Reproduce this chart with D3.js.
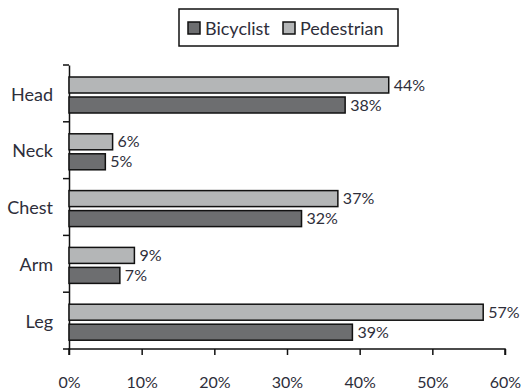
<!DOCTYPE html>
<html>
<head>
<meta charset="utf-8">
<script src="https://cdn.jsdelivr.net/npm/d3@7"></script>
<style>
    body { margin: 0; background: #fff; }
    text { font-family: Lato, "Open Sans", sans-serif; fill: #2e2e3a; }
</style>
</head>
<body>
<svg id="chart" width="525" height="392"></svg>
<script>
const categories = ['Head', 'Neck', 'Chest', 'Arm', 'Leg'];
const seriesNames = ['Pedestrian', 'Bicyclist'];
const pedestrian = [44, 6, 37, 9, 57];
const bicyclist = [38, 5, 32, 7, 39];
const xTicks = [0, 10, 20, 30, 40, 50, 60];

const COLORS = {Bicyclist: '#6d6e70', Pedestrian: '#b4b6b7'};

const MARGIN = {top: 65, right: 20, bottom: 43, left: 69};
const WIDTH = 525, HEIGHT = 392;

const svg = d3.select('#chart');

const xScale = d3.scaleLinear()
    .domain([0, 60])
    .range([MARGIN.left, 505]);

const yScale = d3.scaleBand()
    .domain(categories)
    .range([MARGIN.top, HEIGHT - MARGIN.bottom]);

const subScale = d3.scaleBand()
    .domain(seriesNames)
    .range([12, 48])
    .paddingInner(0.2);

const rows = categories.map((c, i) => ({
    category: c,
    values: [
        {series: 'Pedestrian', value: pedestrian[i]},
        {series: 'Bicyclist', value: bicyclist[i]}
    ]
}));

// axes
const xAxis = d3.axisBottom(xScale)
    .tickValues(xTicks)
    .tickFormat(d => d + '%')
    .tickSize(6)
    .tickPadding(22);
const gx = svg.append('g')
    .attr('transform', `translate(0, ${HEIGHT - MARGIN.bottom})`)
    .call(xAxis);
gx.select('.domain').attr('d', `M${xScale(0)},6V0H${xScale(60)}V6`).attr('stroke', '#111').attr('stroke-width', 1.5);
gx.selectAll('.tick line').attr('stroke', '#111').attr('stroke-width', 1.5);
gx.selectAll('.tick text').attr('font-size', 16).attr('font-family', 'Lato, sans-serif').attr('fill', '#2e2e3a');

const yAxis = d3.axisLeft(yScale).tickSize(0).tickPadding(16);
const gy = svg.append('g')
    .attr('transform', `translate(${MARGIN.left}, 0)`)
    .call(yAxis);
gy.select('.domain').attr('stroke', '#111').attr('stroke-width', 1.5);
gy.selectAll('.tick text').attr('font-size', 18).attr('font-family', 'Lato, sans-serif')
    .attr('fill', '#2e2e3a').attr('dy', '0.4em');
// band boundary ticks
gy.selectAll('.bound')
    .data(categories.map(c => yScale(c)).concat([HEIGHT - MARGIN.bottom]))
    .join('line')
    .attr('x1', -6).attr('x2', 0)
    .attr('y1', d => d).attr('y2', d => d)
    .attr('stroke', '#111').attr('stroke-width', 1.5);

// bars
const groups = svg.append('g').selectAll('g')
    .data(rows)
    .join('g')
    .attr('transform', d => `translate(0, ${yScale(d.category)})`);

groups.selectAll('rect')
    .data(d => d.values)
    .join('rect')
    .attr('x', xScale(0))
    .attr('y', d => subScale(d.series))
    .attr('width', d => xScale(d.value) - xScale(0))
    .attr('height', subScale.bandwidth())
    .attr('fill', d => COLORS[d.series])
    .attr('stroke', '#111')
    .attr('stroke-width', 1.5);

groups.selectAll('text.val')
    .data(d => d.values)
    .join('text')
    .attr('class', 'val')
    .attr('x', d => xScale(d.value) + 5)
    .attr('y', d => subScale(d.series) + subScale.bandwidth() / 2)
    .attr('dy', '0.35em')
    .attr('font-size', 16)
    .text(d => d.value + '%');

// legend
const legend = svg.append('g');
legend.append('rect')
    .attr('x', 179).attr('y', 9).attr('width', 219).attr('height', 37)
    .attr('fill', 'none').attr('stroke', '#111').attr('stroke-width', 1.5);
const legendItems = [
    {name: 'Bicyclist', x: 188},
    {name: 'Pedestrian', x: 283}
];
legend.selectAll('rect.key')
    .data(legendItems)
    .join('rect')
    .attr('class', 'key')
    .attr('x', d => d.x).attr('y', 22)
    .attr('width', 12).attr('height', 12)
    .attr('fill', d => COLORS[d.name])
    .attr('stroke', '#111').attr('stroke-width', 1.5);
legend.selectAll('text')
    .data(legendItems)
    .join('text')
    .attr('x', d => d.x + 17).attr('y', 28)
    .attr('dy', '0.37em')
    .attr('font-size', 18)
    .text(d => d.name);
</script>
</body>
</html>
